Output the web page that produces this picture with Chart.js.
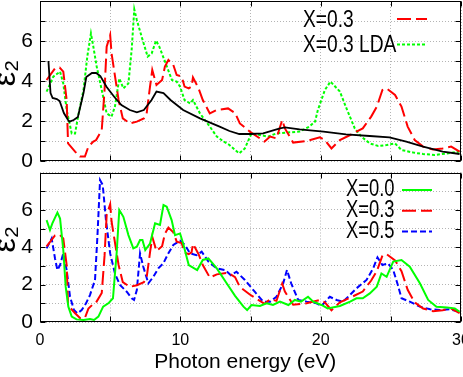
<!DOCTYPE html>
<html><head><meta charset="utf-8">
<script src="https://cdn.jsdelivr.net/npm/chart.js@4"></script>
<style>
html,body{margin:0;padding:0;background:#fff;}
#wrap{position:relative;width:463px;height:377px;overflow:hidden;background:#fff;}
.box{position:absolute;left:0;width:463px;}
canvas{display:block;}
</style></head><body>
<div id="wrap">
<div class="box" style="top:0;height:170px"><canvas id="top" width="463" height="170"></canvas></div>
<div class="box" style="top:170px;height:207px"><canvas id="bot" width="463" height="207"></canvas></div>
</div>
<script>
// ---- tick labels ----
const xTickLabels = ['0','10','20','30'];
const yTickLabels = ['0','2','4','6'];
const xTitle = 'Photon energy (eV)\u2002';
const yTitle = '\u2002ε₂';

// ---- series names ----
const nameX03 = 'X=0.3';
const nameLDA = 'X=0.3 LDA';
const nameX00 = 'X=0.0';
const nameX05 = 'X=0.5';

// ---- top panel: black curve (unlabelled) ----
const blackE = [0.6,0.75,0.9,1.2,1.4,1.7,2.0,2.1,2.4,2.7,3.1,3.3,3.7,4.0,4.3,4.75,5.3,5.8,6.4,6.9,7.4,7.95,8.3,8.8,9.3,10.2,11.4,12.8,13.5,14.2,15.0,15.9,17.1,17.45,18.5,20.2,21.8,23.5,24.9,26.1,27.3,28.7,29.9];
const blackV = [5.0,3.4,3.15,3.1,3.0,2.4,2.05,1.97,2.05,2.2,3.4,4.2,4.4,4.4,4.25,3.7,3.2,2.8,2.55,2.43,2.55,3.05,3.47,3.4,3.05,2.55,2.13,1.72,1.5,1.35,1.35,1.38,1.63,1.68,1.58,1.47,1.33,1.25,1.18,0.97,0.72,0.47,0.35];

// ---- X=0.3 (both panels) ----
const x03E = [0.47,1.07,1.4,1.66,1.9,2.0,2.5,2.85,3.2,3.45,3.8,4.0,4.4,4.6,4.75,5.0,5.1,5.6,5.9,6.4,6.9,7.4,7.6,7.84,8.0,8.3,8.7,8.9,9.15,9.5,9.74,10.1,10.3,10.6,10.8,10.9,11.3,11.6,12.1,12.6,13.4,13.9,14.24,14.95,15.67,16.0,16.4,16.85,17.26,17.45,18.04,19.0,19.94,20.3,20.77,21.37,22.1,23.0,23.6,24.0,24.4,24.7,25.3,25.76,26.2,26.7,27.3,28.0,28.7,29.3,29.9];
const x03V = [4.05,4.63,4.67,4.47,3.05,0.88,0.47,0.22,0.22,0.72,0.97,1.05,1.55,3.55,5.72,6.3,5.38,3.05,2.13,1.88,1.97,2.13,2.38,3.72,4.55,3.8,4.05,4.72,5.05,4.8,4.3,4.22,3.72,3.63,3.72,4.18,3.63,3.05,2.38,2.55,2.63,2.4,1.88,1.47,1.13,0.97,1.22,1.13,2.05,1.63,0.92,1.0,1.18,1.05,0.63,1.05,1.3,1.63,2.22,2.72,3.55,3.63,3.3,2.72,1.72,1.05,0.72,0.58,0.63,0.72,0.47];

// ---- X=0.3 LDA (top panel) ----
const ldaE = [0.47,0.95,1.43,1.66,1.9,2.26,2.5,2.73,3.1,3.37,3.63,3.8,4.04,4.4,4.75,5.1,5.34,5.65,5.94,6.3,6.53,6.72,6.9,7.24,7.67,7.96,8.27,8.5,9.0,9.4,9.74,9.98,10.3,10.7,10.9,11.4,12.1,12.6,13.1,13.5,13.9,14.2,14.6,15.07,15.67,16.26,16.85,17.57,18.5,19.2,19.6,19.8,20.3,20.7,21.37,21.84,22.43,22.9,23.5,24.1,24.7,25.3,25.76,26.6,27.3,28.1,29.0,29.9];
const ldaV = [3.47,4.22,4.47,3.88,2.55,1.38,1.38,2.3,3.55,5.22,6.38,5.72,4.72,3.55,2.38,2.22,2.72,4.13,3.63,3.88,5.55,7.58,7.05,6.22,5.22,5.38,6.02,5.72,4.8,4.05,3.97,3.72,3.05,2.88,3.05,2.38,1.72,1.22,0.97,0.8,0.55,0.38,0.63,1.38,1.3,1.22,1.38,1.42,1.47,1.72,1.97,2.55,3.55,3.97,3.47,2.63,1.63,1.22,0.88,0.75,0.8,0.88,0.55,0.42,0.35,0.3,0.38,0.47];

// ---- X=0.0 (bottom panel) ----
const x00E = [0.47,0.71,0.88,1.24,1.43,1.66,1.83,2.02,2.26,2.6,3.1,3.56,3.85,4.16,4.5,4.87,5.2,5.46,5.65,5.94,6.3,6.65,6.9,7.13,7.3,7.5,7.84,8.2,8.55,8.8,9.03,9.38,9.62,9.98,10.2,10.6,11.2,11.6,12.0,12.6,13.3,13.9,14.5,14.76,15.07,15.67,16.14,16.6,17.1,17.7,18.16,18.6,19.1,19.47,20.06,20.5,21.37,22.1,22.55,23.0,23.5,24.0,24.33,24.7,25.17,25.76,26.35,27.07,27.66,28.25,29.0,29.56,29.9];
const x00V = [5.45,4.92,5.28,5.85,5.54,3.85,1.89,0.82,0.29,0.14,0.11,0.16,0.11,0.29,0.82,1.0,1.27,3.67,5.99,5.63,4.65,3.94,4.03,4.39,4.39,3.85,4.2,5.28,5.19,6.26,6.17,5.45,4.65,4.74,4.2,3.05,2.78,3.32,3.4,2.87,2.07,1.4,0.82,0.64,0.91,0.86,1.0,0.91,1.09,0.91,1.18,1.09,1.35,1.09,0.91,0.73,0.86,1.09,1.27,1.27,1.53,1.89,2.6,2.42,3.23,3.32,2.96,2.07,1.18,0.82,0.78,0.73,0.55];

// ---- X=0.5 (bottom panel) ----
const x05E = [0.47,0.83,1.07,1.24,1.43,1.66,1.9,2.14,2.42,2.66,2.97,3.28,3.56,3.92,4.09,4.28,4.47,4.7,5.0,5.34,5.7,6.18,6.53,6.7,6.9,7.13,7.36,7.72,8.08,8.43,8.79,9.14,9.5,9.98,10.33,10.69,11.16,11.52,12.0,12.6,13.2,13.6,14.0,14.6,15.3,15.9,16.4,16.85,17.33,17.6,17.9,18.4,19.0,19.7,20.06,20.65,21.13,21.6,22.08,22.55,23.27,23.74,24.05,24.4,24.8,25.17,25.5,25.76,26.35,27.07,27.8,28.5,29.2,29.9];
const x05V = [3.94,4.47,3.4,2.78,3.05,3.67,2.78,1.35,0.64,0.46,0.64,1.0,1.44,2.25,4.56,7.59,7.33,5.45,3.67,2.6,1.98,1.62,1.27,1.18,1.71,3.67,2.96,2.07,2.42,2.87,3.14,3.67,4.12,4.35,4.12,3.67,3.58,3.76,3.23,2.87,2.78,2.5,2.69,2.25,1.62,1.09,1.09,1.35,2.07,2.78,2.07,1.18,1.09,1.0,0.86,1.35,1.18,1.09,1.44,1.8,2.25,2.87,3.46,3.05,3.14,2.78,1.98,1.27,1.09,0.82,0.68,0.64,0.68,0.55];

const pts = (E, V) => E.map((e, i) => ({x: e, y: V[i]}));

const REG = "'Liberation Sans', Arial, sans-serif";
const GRID = '#b4b4b4';

function line(label, E, V, color, width, dash) {
  return {label, data: pts(E, V), borderColor: color, backgroundColor: color,
          borderWidth: width, borderDash: dash, pointRadius: 0, fill: false, tension: 0};
}

function zeroPad(s) { s.paddingTop = 0; s.paddingBottom = 0; s.paddingLeft = 0; s.paddingRight = 0; }

function makeScales(bottom) {
  return {
    x: {
      type: 'linear', min: 0, max: 30,
      ticks: {stepSize: 5, autoSkip: false, maxRotation: 0, display: bottom, padding: 9, color: '#000',
              font: {family: REG, size: 16},
              callback: v => xTickLabels.includes(String(v)) ? String(v) : ''},
      grid: {color: GRID, lineWidth: 1, drawTicks: false},
      border: {display: false, dash: [1, 2]},
      title: {display: bottom, text: xTitle, color: '#000',
              font: {family: REG, size: 21, lineHeight: 1}, padding: {top: 0, bottom: 4.5}},
      afterFit: s => { s.height = bottom ? 55 : 9; zeroPad(s); }
    },
    y: {
      min: 0, max: 8,
      ticks: {stepSize: 1, autoSkip: false, padding: 7, color: '#000',
              font: {family: REG, size: 21},
              callback: v => yTickLabels.includes(String(v)) ? String(v) : ''},
      grid: {color: GRID, lineWidth: 1, drawTicks: false},
      border: {display: false, dash: [1, 2]},
      title: {display: true, text: yTitle, color: '#000',
              font: {family: REG, size: 32, lineHeight: 1}, padding: {top: -10, bottom: 0}},
      afterFit: s => { s.width = 40; zeroPad(s); }
    }
  };
}

const framePlugin = {
  id: 'frame',
  afterDraw(chart) {
    const {ctx, chartArea: a, scales: {x, y}} = chart;
    ctx.save();
    ctx.strokeStyle = '#000'; ctx.lineWidth = 1; ctx.setLineDash([]);
    const L = Math.round(a.left) + 0.5, R = Math.round(a.right) - 0.5;
    const T = Math.round(a.top) + 0.5, B = Math.round(a.bottom) - 0.5;
    ctx.strokeRect(L, T, R - L, B - T);
    ctx.beginPath();
    y.ticks.forEach(t => {
      const p = Math.round(y.getPixelForValue(t.value)) + 0.5;
      ctx.moveTo(L, p); ctx.lineTo(L + 5, p); ctx.moveTo(R, p); ctx.lineTo(R - 5, p);
    });
    x.ticks.forEach(t => {
      const p = Math.round(x.getPixelForValue(t.value)) + 0.5;
      ctx.moveTo(p, T); ctx.lineTo(p, T + 5); ctx.moveTo(p, B); ctx.lineTo(p, B - 5);
    });
    ctx.stroke();
    ctx.restore();
  }
};

// key drawn inside the plot: text first, then a line sample (gnuplot style)
const keyPlugin = {
  id: 'key',
  afterDraw(chart, args, o) {
    const ctx = chart.ctx;
    let row = 0;
    chart.data.datasets.forEach(ds => {
      if (!ds.label) return;
      const yy = o.y + row * o.dy;
      ctx.save();
      ctx.font = o.size + 'px ' + REG;
      ctx.fillStyle = '#000'; ctx.textBaseline = 'middle'; ctx.textAlign = 'left';
      ctx.translate(o.textX, yy);
      ctx.scale(o.squeeze, 1);
      ctx.fillText(ds.label, 0, 0);
      ctx.restore();
      ctx.save();
      ctx.strokeStyle = ds.borderColor; ctx.lineWidth = ds.borderWidth;
      ctx.setLineDash(ds.borderDash || []);
      ctx.beginPath(); ctx.moveTo(o.x1, yy + o.lineOff); ctx.lineTo(o.x2, yy + o.lineOff); ctx.stroke();
      ctx.restore();
      row++;
    });
  }
};

Chart.register(framePlugin, keyPlugin);

function opts(bottom, key, pad) {
  return {
    responsive: false, animation: false, devicePixelRatio: 1,
    layout: {autoPadding: false, padding: pad},
    scales: makeScales(bottom),
    plugins: {legend: {display: false}, tooltip: {enabled: false}, key: key}
  };
}

new Chart(document.getElementById('top'), {
  type: 'line',
  data: {datasets: [
    line('', blackE, blackV, '#000000', 1.8, []),
    line(nameX03, x03E, x03V, '#ff0000', 2, [14, 5]),
    line(nameLDA, ldaE, ldaV, '#00ff00', 2, [3, 2])
  ]},
  options: opts(false, {textX: 303, y: 20, dy: 25.5, x1: 397, x2: 427, lineOff: -1, size: 24, squeeze: 0.8},
                {left: 0, right: 2, top: 1, bottom: 0})
});

new Chart(document.getElementById('bot'), {
  type: 'line',
  data: {datasets: [
    line(nameX00, x00E, x00V, '#00ff00', 2, []),
    line(nameX03, x03E, x03V, '#ff0000', 2, [14, 5]),
    line(nameX05, x05E, x05V, '#0000ff', 2, [6, 3])
  ]},
  options: opts(true, {textX: 346, y: 20, dy: 20.8, x1: 402, x2: 432, lineOff: 0, size: 23, squeeze: 0.8},
                {left: 0, right: 2, top: 2.5, bottom: 0})
});
</script>
</body></html>
